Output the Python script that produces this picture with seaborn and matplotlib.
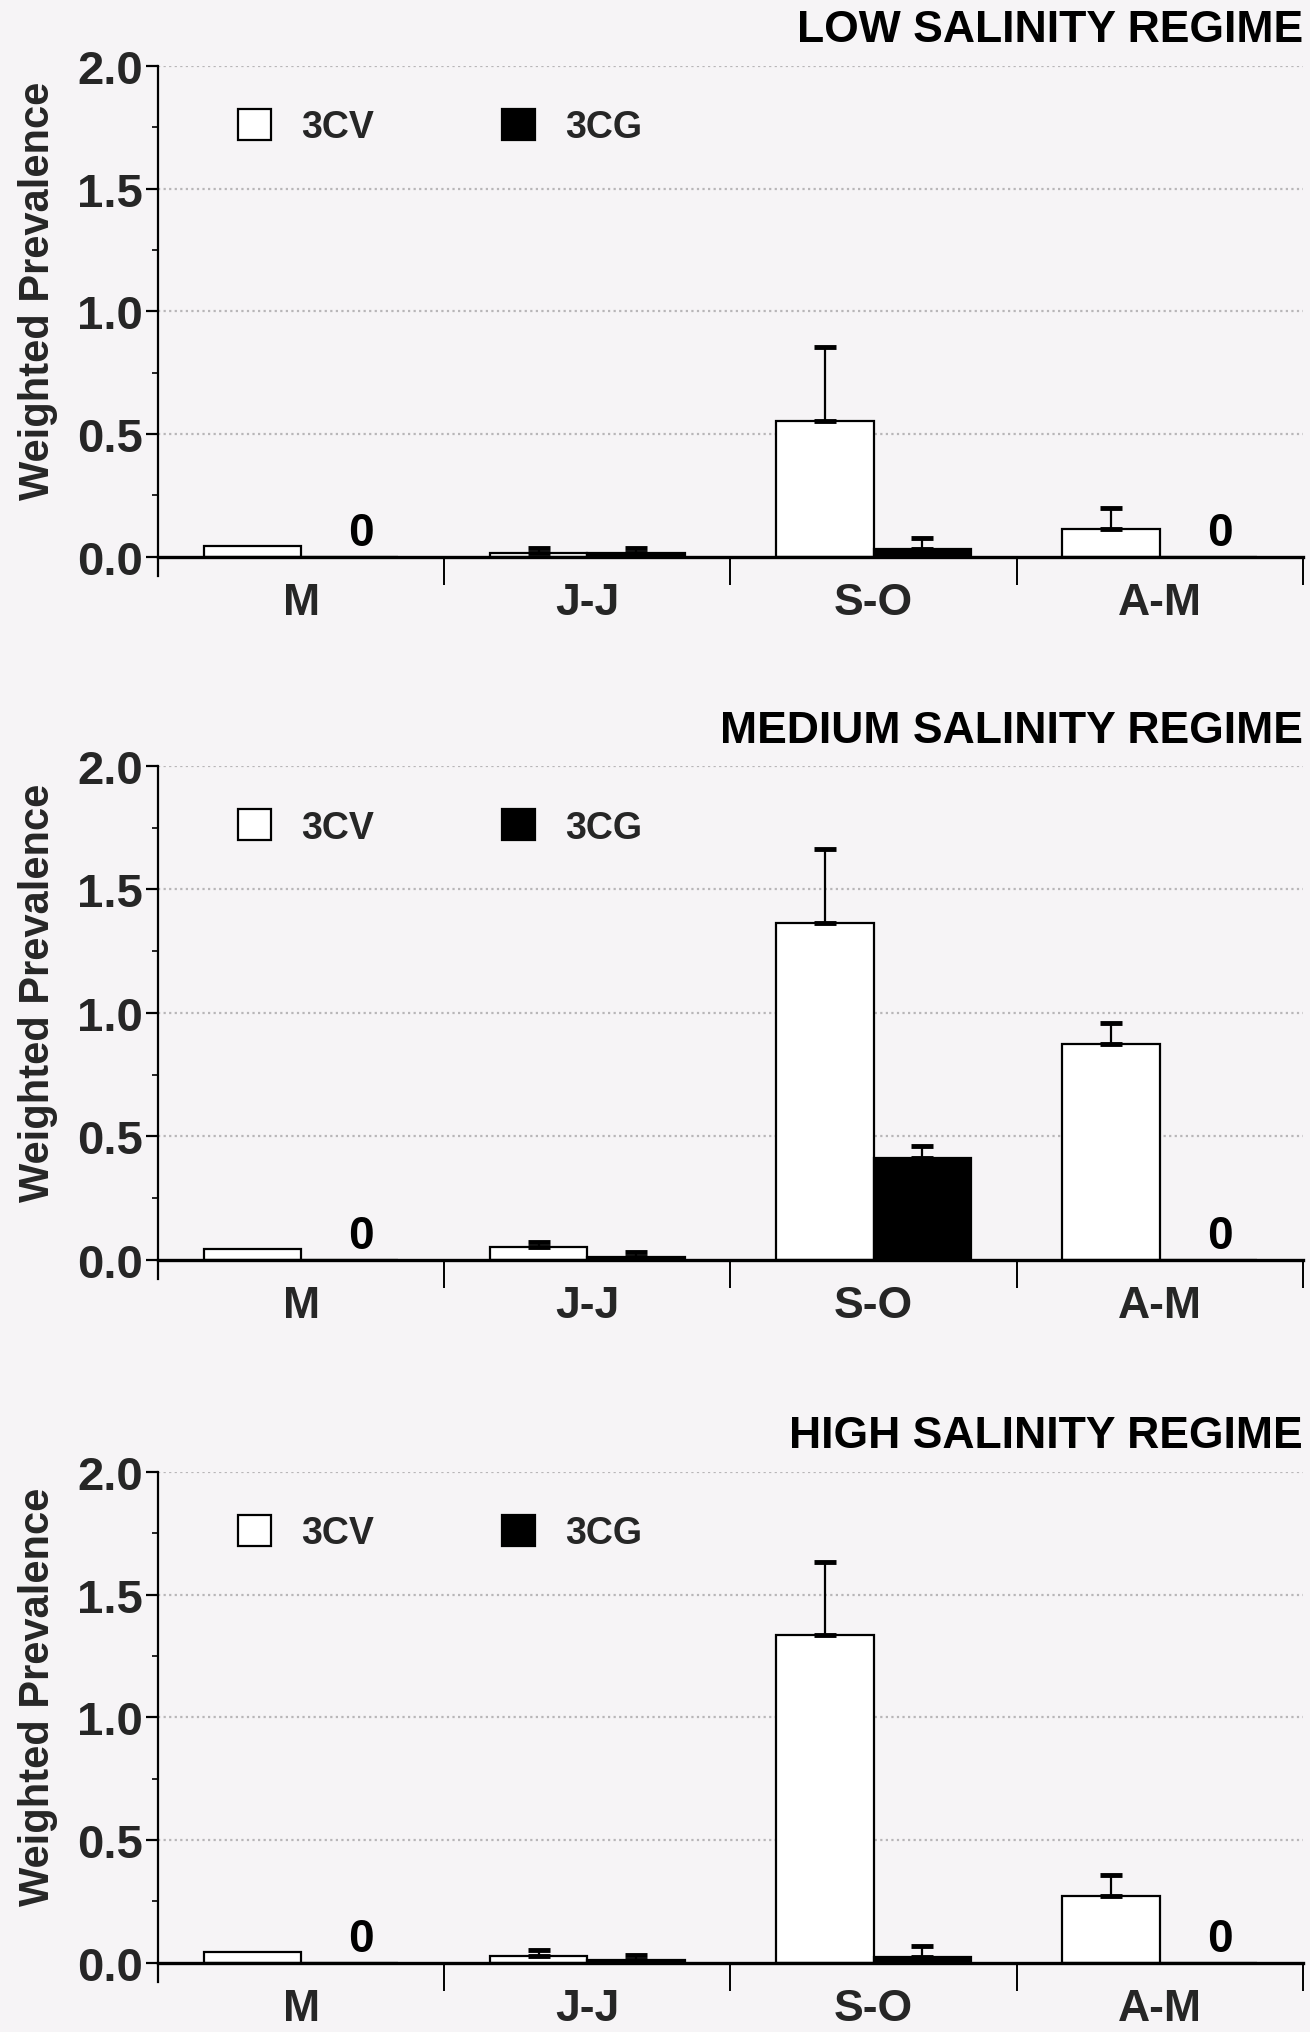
import numpy as np
import pandas as pd
import matplotlib
matplotlib.use("Agg")
import matplotlib.pyplot as plt
import matplotlib.transforms as mtransforms
from matplotlib.patches import Patch
from matplotlib.ticker import MultipleLocator, FixedLocator
import seaborn as sns

# ---------------- data ----------------
seasons = ["M", "J-J", "S-O", "A-M"]
series = ["3CV", "3CG"]
titles = ["LOW SALINITY REGIME", "MEDIUM SALINITY REGIME", "HIGH SALINITY REGIME"]

low_3cv = [0.045, 0.015, 0.555, 0.115]
low_3cg = [0.0, 0.015, 0.030, 0.0]
low_3cv_err = [0.0, 0.020, 0.300, 0.082]
low_3cg_err = [0.0, 0.020, 0.045, 0.0]

med_3cv = [0.043, 0.053, 1.364, 0.875]
med_3cg = [0.0, 0.010, 0.414, 0.0]
med_3cv_err = [0.0, 0.020, 0.300, 0.083]
med_3cg_err = [0.0, 0.022, 0.046, 0.0]

high_3cv = [0.046, 0.026, 1.334, 0.273]
high_3cg = [0.0, 0.010, 0.023, 0.0]
high_3cv_err = [0.0, 0.027, 0.300, 0.086]
high_3cg_err = [0.0, 0.020, 0.046, 0.0]

zero_flags_3cg = [True, False, False, True]  # "0" labels where 3CG is absent

panels = [
    (titles[0], low_3cv, low_3cg, low_3cv_err, low_3cg_err),
    (titles[1], med_3cv, med_3cg, med_3cv_err, med_3cg_err),
    (titles[2], high_3cv, high_3cg, high_3cv_err, high_3cg_err),
]

# ---------------- style ----------------
sns.set_theme(style="white")
BG = "#f6f4f6"
plt.rcParams["font.family"] = ["Liberation Sans", "DejaVu Sans"]
plt.rcParams["font.weight"] = "bold"

fig = plt.figure(figsize=(13.1, 20.33), dpi=100, facecolor=BG)

axes_rects = [
    (0.1206, 0.7162, 0.874, 0.2509),
    (0.1206, 0.3704, 0.874, 0.2523),
    (0.1206, 0.0246, 0.874, 0.2509),
]

for (title, v_cv, v_cg, e_cv, e_cg), rect in zip(panels, axes_rects):
    ax = fig.add_axes(rect)
    ax.set_facecolor(BG)
    df = pd.DataFrame({
        "season": seasons * 2,
        "series": [series[0]] * 4 + [series[1]] * 4,
        "value": list(v_cv) + list(v_cg),
    })
    sns.barplot(data=df, x="season", y="value", hue="series", order=seasons,
                hue_order=series, palette={"3CV": "white", "3CG": "black"},
                width=0.68, gap=0, edgecolor="black", linewidth=1.6,
                errorbar=None, legend=False, ax=ax, zorder=3)

    errs = [e_cv, e_cg]
    for i, (cont, err) in enumerate(zip(ax.containers, errs)):
        xs = [b.get_x() + b.get_width() / 2 for b in cont]
        hs = [b.get_height() for b in cont]
        xs_e = [x for x, e in zip(xs, err) if e > 0]
        hs_e = [h for h, e in zip(hs, err) if e > 0]
        ee = [e for e in err if e > 0]
        ax.errorbar(xs_e, hs_e, yerr=[np.zeros(len(ee)), ee], fmt="none",
                    ecolor="black", elinewidth=1.6, capsize=8, capthick=3.5,
                    zorder=4)
        if i == 1:
            for x, z in zip(xs, zero_flags_3cg):
                if z:
                    ax.text(x + 0.04, 0.008, "0", ha="center", va="bottom",
                            fontsize=33, fontweight="bold", color="black",
                            zorder=5)

    ax.set_xlim(-0.5, 3.5)
    ax.set_ylim(-0.078, 2.0)
    for y in [0.5, 1.0, 1.5, 2.0]:
        ax.axhline(y, color="#b8b6b8", linestyle=(0, (1, 1.5)), linewidth=1.6,
                   zorder=1)

    ax.spines["top"].set_visible(False)
    ax.spines["right"].set_visible(False)
    ax.spines["left"].set_color("black")
    ax.spines["left"].set_linewidth(1.6)
    ax.spines["bottom"].set_position(("data", 0))
    ax.spines["bottom"].set_color("black")
    ax.spines["bottom"].set_linewidth(2.4)
    ax.spines["bottom"].set_zorder(6)

    ax.set_yticks([0.0, 0.5, 1.0, 1.5, 2.0])
    ax.set_yticklabels(["0.0", "0.5", "1.0", "1.5", "2.0"])
    ax.yaxis.set_minor_locator(MultipleLocator(0.25))
    ax.tick_params(axis="y", which="major", direction="out", length=9, width=1.6,
                   color="black", labelsize=34, pad=2, left=True)
    ax.tick_params(axis="y", which="minor", direction="out", length=4, width=1.2,
                   color="black", left=True)
    for lab in ax.get_yticklabels():
        lab.set_fontweight("bold")

    ax.xaxis.set_minor_locator(FixedLocator([0.5, 1.5, 2.5, 3.5]))
    ax.tick_params(axis="x", which="major", length=0, labelsize=32, pad=18,
                   bottom=True)
    ax.tick_params(axis="x", which="minor", direction="out", length=20,
                   width=1.4, color="black", bottom=True)
    for lab in ax.get_xticklabels():
        lab.set_fontweight("bold")
    ax.set_xlabel("")
    ax.set_ylabel("Weighted Prevalence", fontsize=30, fontweight="bold")
    ax.yaxis.set_label_coords(-0.087, 0.56)

    handles = [Patch(facecolor="white", edgecolor="black", linewidth=1.6),
               Patch(facecolor="black", edgecolor="black", linewidth=1.6)]
    ax.legend(handles, series, loc="center left", bbox_to_anchor=(0.04, 0.88),
              ncol=2, frameon=False, handlelength=0.9,
              handleheight=0.9, handletextpad=0.8, columnspacing=3.4,
              prop={"weight": "bold", "size": 27})

    trans = mtransforms.offset_copy(ax.transAxes, fig=fig, y=36, units="dots")
    ax.text(1.0, 1.0, title, transform=trans, ha="right", va="center",
            fontsize=32, fontweight="bold", color="black")

fig.savefig("out.png", dpi=100, facecolor=BG)
